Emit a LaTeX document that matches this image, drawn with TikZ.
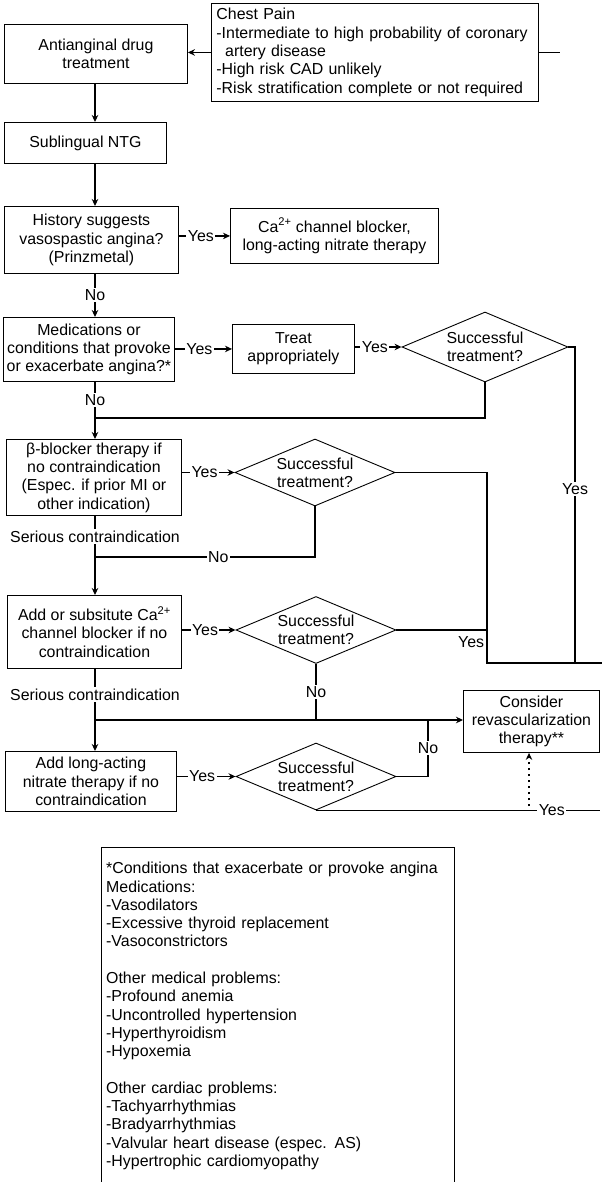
\documentclass[tikz,border=0pt]{standalone}
\usepackage{fontspec}
\setmainfont{Liberation Sans}
\usetikzlibrary{arrows.meta, shapes.geometric}

\begin{document}
\begin{tikzpicture}[x=1pt,y=-1pt,
  font=\fontsize{15.9}{18.3}\selectfont,
  box/.style={draw, line width=0.9pt, align=center, inner sep=0pt, anchor=north west},
  decision/.style={draw, diamond, aspect=2.3, line width=0.9pt, align=center, inner sep=0pt,
    minimum width=160pt, minimum height=67pt},
  flow/.style={line width=1.8pt},
  tip/.style={-{Stealth[length=7pt,width=6.5pt]}},
  tag/.style={fill=white, inner sep=1.5pt}]
\useasboundingbox (0,0) rectangle (602,1182);
\def\spinex{95}
\def\railinner{487}
\def\railouter{575}
\def\yesfloor{663}

% boxes down the left and the decisions beside them
\node[box, align=left, text width=317pt, inner xsep=5pt, minimum height=98pt] (chest) at (211,3)
  {Chest Pain\\-Intermediate to high probability of coronary\\\hspace*{0.55em}artery disease\\-High risk CAD unlikely\\-Risk stratification complete or not required};
\node[box, minimum width=183pt, minimum height=59pt] (anti) at (4,24) {Antianginal drug\\treatment};
\node[box, minimum width=162pt, minimum height=41pt] (subl) at (4,122) {Sublingual NTG};
\node[box, minimum width=174pt, minimum height=67pt] (hist) at (4,206) {History suggests\\vasospastic angina?\\(Prinzmetal)};
\node[box, minimum width=208pt, minimum height=55pt] (chan) at (230,208) {Ca\textsuperscript{2+} channel blocker,\\long-acting nitrate therapy};
\node[box, minimum width=171pt, minimum height=64pt] (meds) at (3,317) {Medications or\\conditions that provoke\\or exacerbate angina?*};
\node[box, minimum width=122pt, minimum height=49pt] (treat) at (232,324) {Treat\\appropriately};
\node[decision, aspect=2.1, minimum width=166pt, minimum height=70pt] (okA) at (485,347) {Successful\\treatment?};
\node[box, minimum width=175pt, minimum height=76pt] (beta) at (6,439) {β-blocker therapy if\\no contraindication\\(Espec. if prior MI or\\other indication)};
\node[decision] (okB) at (315,472.5) {Successful\\treatment?};
\node[box, minimum width=174pt, minimum height=73pt] (casub) at (7,595) {Add or subsitute Ca\textsuperscript{2+}\\channel blocker if no\\contraindication};
\node[decision] (okC) at (316,630) {Successful\\treatment?};
\node[box, minimum width=136pt, minimum height=62pt] (revasc) at (463,690) {Consider\\revascularization\\therapy**};
\node[box, minimum width=171pt, minimum height=60pt] (nitrate) at (5,751) {Add long-acting\\nitrate therapy if no\\contraindication};
\node[decision] (okD) at (316,776.5) {Successful\\treatment?};

% footnote, open at the foot of the page
\node[anchor=north west, text width=343pt, inner xsep=5pt, inner ysep=15pt, align=left] (notes) at (101,847)
  {*Conditions that exacerbate or provoke angina\\Medications:\\-Vasodilators\\-Excessive thyroid replacement\\-Vasoconstrictors\\[18.3pt]%
   Other medical problems:\\-Profound anemia\\-Uncontrolled hypertension\\-Hyperthyroidism\\-Hypoxemia\\[18.3pt]%
   Other cardiac problems:\\-Tachyarrhythmias\\-Bradyarrhythmias\\-Valvular heart disease (espec. AS)\\-Hypertrophic cardiomyopathy};
\coordinate (pagefoot) at (0,1182);
\draw[line width=0.9pt] (notes.north west |- pagefoot) -- (notes.north west) -- (notes.north east) -- (notes.north east |- pagefoot);

% chest pain feeds in from the right
\coordinate (offpage) at (560,0);
\draw[flow,tip] (chest.west) -- (chest.west -| anti.east);
\draw[flow] (chest.east) -- (chest.east -| offpage);

% main spine
\coordinate (spine) at (\spinex,0);
\coordinate (joinA) at (\spinex,418);
\coordinate (joinB) at (\spinex,557);
\coordinate (joinC) at (\spinex,720);
\foreach \upper/\lower in {anti/subl, subl/hist}
  \draw[flow,tip] (\upper.south -| spine) -- (\lower.north -| spine);
\draw[flow,tip] (hist.south -| spine) -- node[tag]{No} (meds.north -| spine);
\draw[flow,tip] (meds.south -| spine) -- node[tag]{No} (joinA) -- (beta.north -| spine);
\draw[flow] (okA.south) |- (joinA);
\draw[flow,tip] (beta.south -| spine) -- node[tag]{Serious contraindication} (joinB) -- (casub.north -| spine);
\draw[flow] (okB.south) |- node[tag,pos=0.72]{No} (joinB);
\draw[flow,tip] (casub.south -| spine) -- node[tag]{Serious contraindication} (joinC) -- (nitrate.north -| spine);
\draw[flow] (okC.south) -- node[tag]{No} (okC.south |- joinC);
\draw[flow,tip] (joinC) -- (joinC -| revasc.west);

% yes branches
\foreach \from/\to in {hist/chan, meds/treat, treat/okA, beta/okB, casub/okC, nitrate/okD}
  \draw[flow,tip] (\from.east |- \to.west) -- node[tag,pos=0.43]{Yes} (\to.west);

% successful outcomes run down the right-hand rails
\coordinate (railA) at (\railouter,\yesfloor);
\coordinate (railB) at (\railinner,\yesfloor);
\coordinate (offfloor) at (602,\yesfloor);
\draw[flow] (okA.east) -- (okA.east -| railA) -- node[tag,pos=0.45]{Yes} (railA);
\draw[flow] (okB.east) -- (okB.east -| railB) -- (railB) -- (offfloor);
\draw[flow] (okC.east) -- (okC.east -| railB) node[anchor=north east, inner sep=2pt, yshift=-4pt]{Yes};

% last decision
\coordinate (noD) at (428,720);
\coordinate (offfoot) at (600,810);
\coordinate (dotfoot) at (529,806);
\draw[flow] (okD.east) -| node[tag,pos=0.75]{No} (noD);
\draw[flow] (okD.south) -- node[tag,pos=0.83]{Yes} (okD.south -| offfoot);
\draw[line width=1.6pt, dash pattern=on 1.6pt off 4.4pt, tip] (dotfoot) -- (dotfoot |- revasc.south);
\end{tikzpicture}
\end{document}
